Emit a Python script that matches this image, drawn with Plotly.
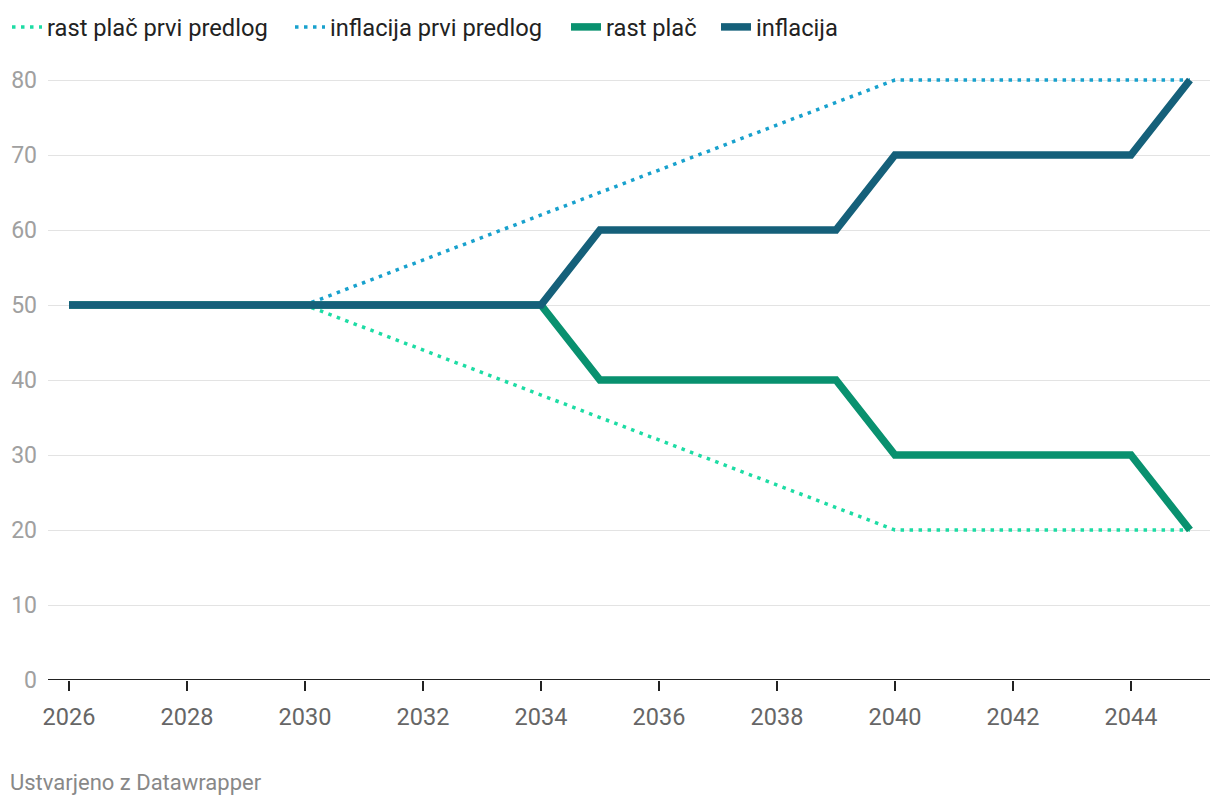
import plotly.graph_objects as go

years = list(range(2026, 2046))
rast_plac_prvi = [50, 50, 50, 50, 50, 47, 44, 41, 38, 35, 32, 29, 26, 23, 20, 20, 20, 20, 20, 20]
inflacija_prvi = [50, 50, 50, 50, 50, 53, 56, 59, 62, 65, 68, 71, 74, 77, 80, 80, 80, 80, 80, 80]
rast_plac = [50, 50, 50, 50, 50, 50, 50, 50, 50, 40, 40, 40, 40, 40, 30, 30, 30, 30, 30, 20]
inflacija = [50, 50, 50, 50, 50, 50, 50, 50, 50, 60, 60, 60, 60, 60, 70, 70, 70, 70, 70, 80]

x_ticks = list(range(2026, 2046, 2))
y_ticks = list(range(0, 81, 10))

FONT = "Roboto"
W, H = 1220, 806

fig = go.Figure()
fig.add_trace(go.Scatter(x=years, y=rast_plac_prvi, mode="lines", name="rast plač prvi predlog",
                         legend="legend",
                         line=dict(color="#1ddca4", width=3.5, dash="3.5px,5.5px")))
fig.add_trace(go.Scatter(x=years, y=inflacija_prvi, mode="lines", name="inflacija prvi predlog",
                         legend="legend2",
                         line=dict(color="#18a1cd", width=3.5, dash="3.5px,5.5px")))
fig.add_trace(go.Scatter(x=years, y=rast_plac, mode="lines", name="rast plač",
                         legend="legend3",
                         line=dict(color="#09916f", width=7.5)))
fig.add_trace(go.Scatter(x=years, y=inflacija, mode="lines", name="inflacija",
                         legend="legend4",
                         line=dict(color="#15607a", width=7.5)))


def leg(px):
    return dict(orientation="h", x=px / W, xanchor="left", y=1 - 27 / H, yanchor="middle",
                yref="container", xref="container",
                font=dict(family=FONT, size=23.7, color="#222"),
                itemwidth=30, bgcolor="rgba(0,0,0,0)")


fig.update_layout(
    width=W, height=H,
    paper_bgcolor="white", plot_bgcolor="white",
    margin=dict(l=48, r=10, t=65, b=126, autoexpand=False),
    font=dict(family=FONT, size=23, color="#333"),
    showlegend=True,
    legend=leg(7), legend2=leg(290), legend3=leg(566), legend4=leg(716),
    xaxis=dict(range=[2025.644, 2045.34], tickvals=x_ticks, ticktext=[str(v) for v in x_ticks],
               showgrid=False, zeroline=False, showline=False, automargin=False,
               ticks="outside", ticklen=10, tickwidth=2, tickcolor="#222",
               ticklabelstandoff=6,
               tickfont=dict(family=FONT, size=23.5, color="#666")),
    yaxis=dict(range=[0, 82], tickvals=y_ticks, ticktext=[str(v) for v in y_ticks],
               showgrid=True, gridcolor="#e3e3e3", gridwidth=1, automargin=False,
               zeroline=False, showline=False, ticks="", ticklabelstandoff=10,
               tickfont=dict(family=FONT, size=23, color="#a0a0a0")),
    shapes=[dict(type="line", xref="paper", yref="y", x0=0, x1=1, y0=0, y1=0,
                 line=dict(color="#222", width=2), layer="above")],
    annotations=[dict(text="Ustvarjeno z Datawrapper", xref="paper", yref="paper",
                      x=0, y=0, xanchor="left", yanchor="middle", showarrow=False,
                      xshift=-40, yshift=-102,
                      font=dict(family=FONT, size=22, color="#888"))],
)

fig.write_html("out.html", config={"displayModeBar": False},
               post_script="document.body.style.margin='0';")
